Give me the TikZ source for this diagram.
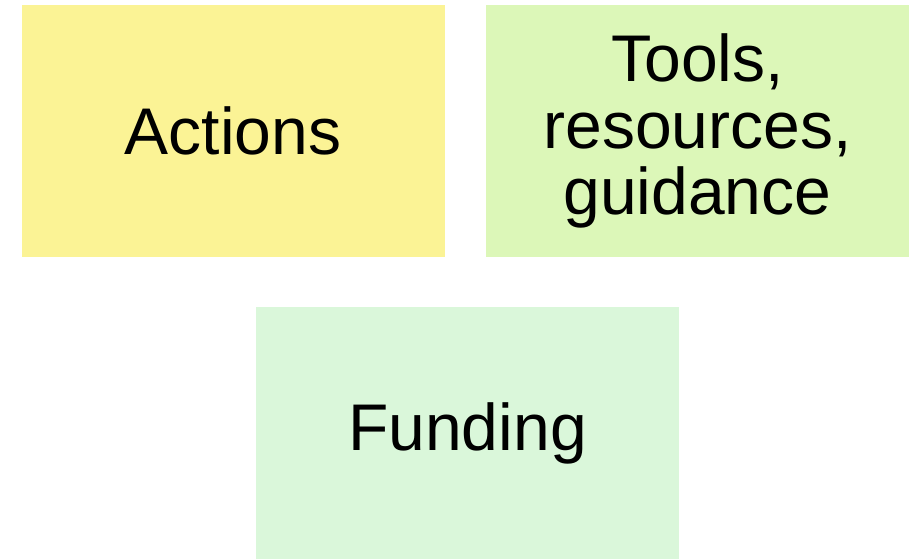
\documentclass[tikz,border=0pt]{standalone}
\usepackage{fontspec}
\setmainfont{Liberation Sans}
\definecolor{actionsyellow}{RGB}{251,243,149}
\definecolor{toolsgreen}{RGB}{220,247,184}
\definecolor{fundinggreen}{RGB}{218,247,218}
\begin{document}
\begin{tikzpicture}[x=0.75pt,y=-0.75pt]
\tikzset{
  area/.style={shape=rectangle,inner sep=0pt,align=center,minimum width=317.25pt,minimum height=189pt,font=\fontsize{49.5}{50}\selectfont}
}
\useasboundingbox (0,0) rectangle (910,559);
\node[area,fill=actionsyellow] (actions) at (233,131) {Actions};
\node[area,fill=toolsgreen] (tools) at (697.5,131) {Tools,\\resources,\\guidance};
\node[area,fill=fundinggreen] (funding) at (467.5,433.5) {Funding};
\end{tikzpicture}
\end{document}
